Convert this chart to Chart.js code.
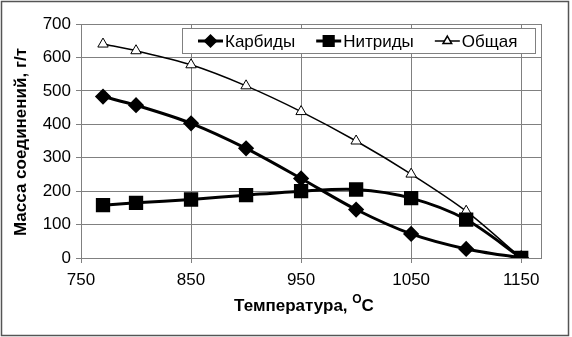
<!DOCTYPE html>
<html lang="ru">
<head>
<meta charset="UTF-8">
<title>Масса соединений</title>
<script src="https://cdn.jsdelivr.net/npm/chart.js"></script>
<style>
  html, body { margin: 0; padding: 0; background: #fff; }
  #wrap { width: 572px; height: 337px; }
</style>
</head>
<body>
<div id="wrap"><canvas id="grafico" width="572" height="337"></canvas></div>
<script>
// данные
const temperatura = [770, 800, 850, 900, 950, 1000, 1050, 1100, 1150];
const karbidy = [483, 457, 403, 328, 238, 145, 72, 27, 0];
const nitridy = [158, 165, 175, 188, 200, 205, 179, 115, 0];
const obshaya = [640, 620, 578, 515, 438, 350, 251, 140, 0];
const xTicks = [750, 850, 950, 1050, 1150];
const yTicks = [0, 100, 200, 300, 400, 500, 600, 700];

const fonte = 'Liberation Sans, Arial, sans-serif';

function pontos(valores) {
  return temperatura.map((t, i) => ({ x: t, y: valores[i] }));
}

// рамка вокруг всей диаграммы, рамка области, легенда и подписи осей
const extras = {
  id: 'extras',
  beforeDraw(chart) {
    const c = chart.ctx;
    c.save();
    c.fillStyle = '#fff';
    c.fillRect(0, 0, chart.width, chart.height);
    c.restore();
  },
  afterDraw(chart) {
    const c = chart.ctx;
    const a = chart.chartArea;
    c.save();
    // внешняя рамка
    c.strokeStyle = '#555';
    c.lineWidth = 1.5;
    c.strokeRect(1.5, 1.5, chart.width - 5, chart.height - 3);
    // рамка области построения
    c.strokeStyle = '#808080';
    c.lineWidth = 1;
    c.strokeRect(a.left + 0.5, a.top + 0.5, a.right - a.left, a.bottom - a.top);

    // легенда
    const bx = 182, by = 28, bw = 353, bh = 25;
    c.fillStyle = '#fff';
    c.fillRect(bx, by, bw, bh);
    c.strokeStyle = '#808080';
    c.strokeRect(bx + 0.5, by + 0.5, bw, bh);
    c.font = '17px ' + fonte;
    c.textBaseline = 'middle';
    const cy = by + bh / 2 + 0.5;
    let x = bx + 16;
    chart.data.datasets.forEach(ds => {
      c.strokeStyle = '#000';
      c.lineWidth = ds.borderWidth;
      c.beginPath();
      c.moveTo(x, cy);
      c.lineTo(x + 25, cy);
      c.stroke();
      c.fillStyle = ds.pointBackgroundColor;
      c.strokeStyle = '#000';
      Chart.helpers.drawPoint(c, {
        pointStyle: ds.pointStyle,
        rotation: 0,
        radius: ds.legendRadius,
        borderWidth: 1
      }, x + 12.5, cy);
      c.fillStyle = '#000';
      c.font = '17px ' + fonte;
      c.textAlign = 'left';
      c.fillText(ds.label, x + 27, cy + 1);
      x += 27 + c.measureText(ds.label).width + 21;
    });

    // подпись оси Y
    c.fillStyle = '#000';
    c.font = 'bold 17px ' + fonte;
    c.textAlign = 'center';
    c.textBaseline = 'middle';
    c.translate(21, 142);
    c.rotate(-Math.PI / 2);
    c.fillText('Масса соединений, г/т', 0, 0);
    c.setTransform(1, 0, 0, 1, 0, 0);

    // подпись оси X с верхним индексом
    const p1 = 'Температура, ', p2 = 'O', p3 = 'C';
    c.font = 'bold 17px ' + fonte;
    const w1 = c.measureText(p1).width;
    const w3 = c.measureText(p3).width;
    c.font = 'bold 12px ' + fonte;
    const w2 = c.measureText(p2).width;
    const total = w1 + w2 + w3;
    let tx = 304 - total / 2;
    const ty = 306;
    c.textAlign = 'left';
    c.textBaseline = 'middle';
    c.font = 'bold 17px ' + fonte;
    c.fillText(p1, tx, ty);
    tx += w1;
    c.font = 'bold 12px ' + fonte;
    c.fillText(p2, tx, ty - 6);
    tx += w2;
    c.font = 'bold 17px ' + fonte;
    c.fillText(p3, tx, ty);
    c.restore();
  }
};

const ctx = document.getElementById('grafico').getContext('2d');
new Chart(ctx, {
  type: 'line',
  data: {
    datasets: [
      {
        label: 'Карбиды',
        data: pontos(karbidy),
        borderColor: '#000',
        backgroundColor: '#000',
        borderWidth: 3,
        pointStyle: 'rectRot',
        pointRadius: 6,
        legendRadius: 5,
        pointBackgroundColor: '#000',
        pointBorderColor: '#000',
        tension: 0.3
      },
      {
        label: 'Нитриды',
        data: pontos(nitridy),
        borderColor: '#000',
        backgroundColor: '#000',
        borderWidth: 3,
        pointStyle: 'rect',
        pointRadius: 8,
        legendRadius: 6.5,
        pointBackgroundColor: '#000',
        pointBorderColor: '#000',
        tension: 0.3
      },
      {
        label: 'Общая',
        data: pontos(obshaya),
        borderColor: '#000',
        backgroundColor: '#fff',
        borderWidth: 1.5,
        pointStyle: 'triangle',
        pointRadius: 6,
        legendRadius: 5,
        pointBackgroundColor: '#fff',
        pointBorderColor: '#000',
        pointBorderWidth: 1,
        tension: 0.3
      }
    ]
  },
  options: {
    responsive: false,
    animation: false,
    layout: { padding: { left: 0, top: 24, right: 31, bottom: 0 } },
    plugins: {
      legend: { display: false },
      tooltip: { enabled: false }
    },
    scales: {
      x: {
        type: 'linear',
        min: 750,
        max: 1168,
        afterFit(scale) { scale.height = 79; },
        afterBuildTicks(scale) { scale.ticks = xTicks.map(v => ({ value: v })); },
        grid: { color: '#808080', tickLength: 5, lineWidth: 1 },
        border: { color: '#808080' },
        ticks: {
          color: '#000',
          font: { family: fonte, size: 17 },
          padding: 7,
          maxRotation: 0,
          callback: v => String(v)
        }
      },
      y: {
        min: 0,
        max: 700,
        afterFit(scale) { scale.width = 81; },
        afterBuildTicks(scale) { scale.ticks = yTicks.map(v => ({ value: v })); },
        grid: { color: '#808080', tickLength: 5, lineWidth: 1 },
        border: { color: '#808080' },
        ticks: {
          color: '#000',
          font: { family: fonte, size: 17 },
          padding: 5,
          callback: v => String(v)
        }
      }
    }
  },
  plugins: [extras]
});
</script>
</body>
</html>
